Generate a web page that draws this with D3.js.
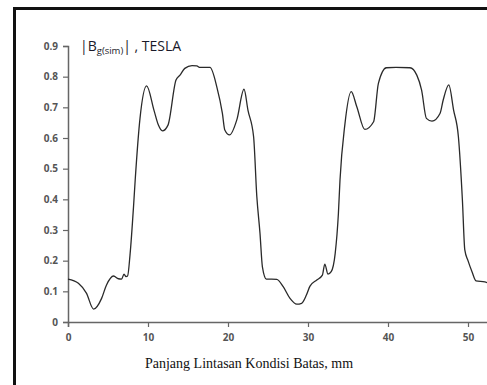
<!DOCTYPE html>
<html><head><meta charset="utf-8">
<script src="https://cdnjs.cloudflare.com/ajax/libs/d3/7.8.5/d3.min.js"></script>
<style>body{margin:0;background:#fff;}svg{display:block;}</style>
</head><body>
<script>
const positionsMm = [0,1.3,2.3,3.2,4.2,4.8,5.7,6.3,6.7,7.0,7.25,7.45,7.75,8.2,8.4,9.0,9.83,10.75,11.3,11.8,12.5,13.5,14.0,14.6,15.5,16.1,16.5,17.75,18.6,19.3,19.6,20.2,21.1,22.0,22.5,23.2,23.6,24.0,24.3,24.8,26.1,26.9,27.75,28.6,29.2,29.8,30.25,31.1,31.8,32.1,32.5,32.9,33.4,33.8,34.0,34.6,35.4,36.1,37.1,38.2,38.8,39.8,41.0,42.75,43.6,44.2,44.8,45.5,46.5,46.9,47.6,48.2,48.8,49.3,49.6,50.0,50.5,51.0,52.1,52.4];
const bValues = [0.14,0.126,0.094,0.042,0.077,0.12,0.15,0.141,0.14,0.156,0.148,0.15,0.218,0.38,0.463,0.664,0.77,0.69,0.642,0.623,0.642,0.789,0.805,0.827,0.836,0.835,0.83,0.83,0.767,0.68,0.626,0.61,0.659,0.759,0.69,0.604,0.41,0.289,0.18,0.14,0.139,0.115,0.077,0.058,0.061,0.088,0.117,0.137,0.153,0.189,0.156,0.164,0.224,0.354,0.463,0.642,0.751,0.702,0.628,0.653,0.778,0.829,0.83,0.829,0.805,0.756,0.664,0.655,0.68,0.724,0.773,0.691,0.604,0.398,0.235,0.2,0.164,0.134,0.131,0.128];
const xTicks = [0,10,20,30,40,50];
const yTicks = [0,0.1,0.2,0.3,0.4,0.5,0.6,0.7,0.8,0.9];
const xLabel = "Panjang Lintasan Kondisi Batas, mm";

const W = 487, H = 385;
const svg = d3.select("body").append("svg").attr("width", W).attr("height", H);

svg.append("rect").attr("x", 14.5).attr("y", 8.5).attr("width", 500).attr("height", 400)
  .attr("fill", "none").attr("stroke", "#111").attr("stroke-width", 3);

const x = d3.scaleLinear().domain([0, 52.5]).range([68, 488]);
const y = d3.scaleLinear().domain([0, 0.9]).range([322, 46]);

const xAxis = svg.append("g").attr("transform", "translate(0,322)")
  .call(d3.axisBottom(x).tickValues(xTicks).tickSize(5).tickPadding(7).tickFormat(d3.format("d")));
const yAxis = svg.append("g").attr("transform", "translate(68,0)")
  .call(d3.axisLeft(y).tickValues(yTicks).tickSize(5).tickPadding(5).tickFormat(d => d === 0 ? "0" : d3.format(".1f")(d)));
[xAxis, yAxis].forEach(g => {
  g.select(".domain").attr("stroke", "#666").attr("stroke-width", 1.5);
  g.selectAll(".tick line").attr("stroke", "#666").attr("stroke-width", 1.2);
  g.selectAll(".tick text").attr("fill", "#555").attr("font-family", "'Open Sans', sans-serif")
    .attr("font-size", 10).attr("font-weight", "bold");
});

const pts = positionsMm.map((m, i) => [m, bValues[i]]);
svg.append("path").datum(pts)
  .attr("fill", "none").attr("stroke", "#2a2a2a").attr("stroke-width", 1.3).attr("stroke-linejoin", "round")
  .attr("d", d3.line().x(d => x(d[0])).y(d => y(d[1])).curve(d3.curveMonotoneX));

const t = svg.append("text").attr("x", 80).attr("y", 51)
  .attr("font-family", "'Open Sans', sans-serif").attr("font-size", 14).attr("fill", "#1a1a2a");
t.append("tspan").text("|B");
t.append("tspan").attr("font-size", 9.5).attr("dy", 3).text("g(sim)");
t.append("tspan").attr("dy", -3).text("| , TESLA");

svg.append("text").attr("x", 249).attr("y", 368).attr("text-anchor", "middle")
  .attr("font-family", "'Liberation Serif', serif").attr("font-size", 14).attr("fill", "#111")
  .text(xLabel);
</script>
</body></html>
